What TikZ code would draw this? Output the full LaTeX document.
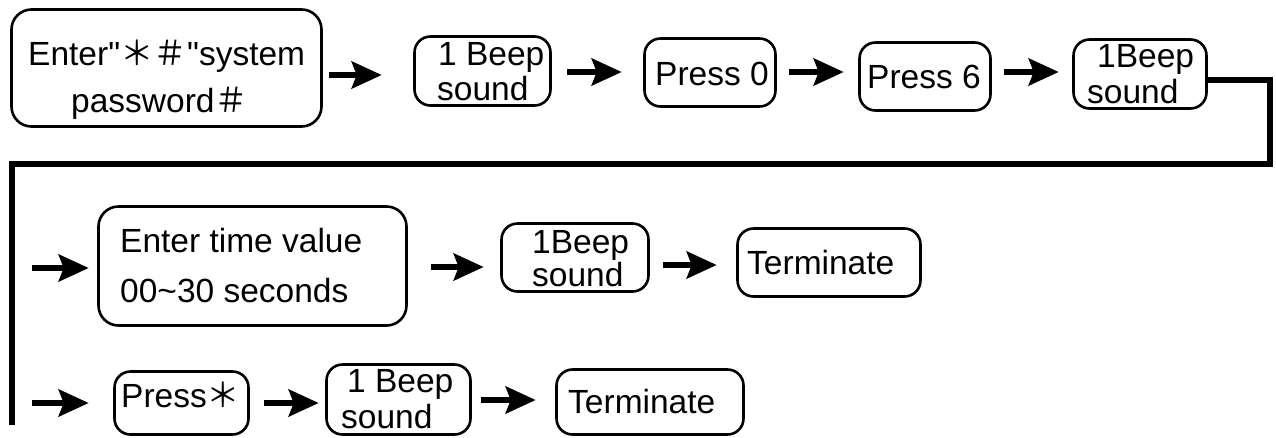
\documentclass[tikz,border=0pt]{standalone}
\usepackage{fontspec}
\setmainfont{Liberation Sans}
\newfontfamily\lib{Liberation Sans}
\newfontfamily\cjk{Noto Sans CJK SC}
\usetikzlibrary{arrows.meta}
\begin{document}
\begin{tikzpicture}[x=1pt,y=-1pt,
  box/.style={draw, line width=2.6pt, rounded corners=16pt, inner sep=0pt},
  bigbox/.style={box, rounded corners=20pt},
  txt/.style={anchor=base west, inner sep=0pt, font=\lib\fontsize{33.5}{36}\selectfont},
  arr/.style={line width=5.5pt, -{Stealth[length=30pt,width=27pt,inset=5pt]}},
  link/.style={line width=6pt}]
\useasboundingbox (0,0) rectangle (1276,437);
% boxes
\node[bigbox, minimum width=310pt, minimum height=117pt] (b1) at (166.5,68) {};
\node[box, minimum width=136pt, minimum height=69pt] (b2) at (482.5,71) {};
\node[box, minimum width=131pt, minimum height=68pt] (b3) at (710,72.5) {};
\node[box, minimum width=131pt, minimum height=68pt] (b4) at (925,76.5) {};
\node[box, minimum width=133pt, minimum height=69pt] (b5) at (1140,74) {};
\node[bigbox, minimum width=308pt, minimum height=119pt] (b6) at (252.5,266) {};
\node[box, minimum width=147pt, minimum height=68pt] (b7) at (575,257.5) {};
\node[box, minimum width=183pt, minimum height=68pt] (b8) at (829,262.5) {};
\node[box, minimum width=134pt, minimum height=63pt] (b9) at (181.5,403) {};
\node[box, minimum width=144pt, minimum height=70pt] (b10) at (398.5,399.5) {};
\node[box, minimum width=187pt, minimum height=65pt] (b11) at (650,402) {};
% texts
\node[txt] (t1a) at (28,65) {Enter"{\cjk ＊＃}"system};
\node[txt] (t1b) at (71,112) {password{\cjk ＃}};
\node[txt] (t2a) at (438,65) {1 Beep};
\node[txt] (t2b) at (437,100) {sound};
\node[txt] (t3) at (655,85) {Press 0};
\node[txt] (t4) at (867,88) {Press 6};
\node[txt] (t5a) at (1097,67) {1Beep};
\node[txt] (t5b) at (1087,103) {sound};
\node[txt] (t6a) at (120,252) {Enter time value};
\node[txt] (t6b) at (120,302) {00\textasciitilde30 seconds};
\node[txt] (t7a) at (532,253) {1Beep};
\node[txt] (t7b) at (532,286) {sound};
\node[txt] (t8) at (747,274) {Terminate};
\node[txt] (t9) at (121,407) {Press{\cjk ＊}};
\node[txt] (t10a) at (347,392) {1 Beep};
\node[txt] (t10b) at (341,428) {sound};
\node[txt] (t11) at (568,413) {Terminate};
% free ends
\coordinate (turn) at (1270,164);
\coordinate (lend) at (12,425);
\coordinate (s2) at (32,268);
\coordinate (s3) at (32,403);
% connectors
\draw[link] ([yshift=-6pt]b5.east) -| (turn) -| (lend);
\draw[arr] ([xshift=6.5pt,yshift=-7pt]b1.east) -- ([xshift=-31.5pt,yshift=-4pt]b2.west);
\draw[arr] ([xshift=15.5pt,yshift=-1pt]b2.east) -- ([xshift=-21.5pt,yshift=0.5pt]b3.west);
\draw[arr] ([xshift=12.5pt,yshift=0.5pt]b3.east) -- ([xshift=-14.5pt,yshift=4.5pt]b4.west);
\draw[arr] ([xshift=12.5pt,yshift=4.5pt]b4.east) -- ([xshift=-13.5pt,yshift=2pt]b5.west);
\draw[arr] (s2) -- ([xshift=-8.5pt,yshift=-2pt]b6.west);
\draw[arr] ([xshift=23.5pt,yshift=-1pt]b6.east) -- ([xshift=-16.5pt,yshift=-9.5pt]b7.west);
\draw[arr] ([xshift=13.5pt,yshift=-7.5pt]b7.east) -- ([xshift=-19.5pt,yshift=-2.5pt]b8.west);
\draw[arr] (s3) -- ([xshift=-24.5pt]b9.west);
\draw[arr] ([xshift=14.5pt]b9.east) -- ([xshift=-6.5pt,yshift=-3.5pt]b10.west);
\draw[arr] ([xshift=9.5pt,yshift=-0.5pt]b10.east) -- ([xshift=-19.5pt,yshift=2pt]b11.west);
\end{tikzpicture}
\end{document}
